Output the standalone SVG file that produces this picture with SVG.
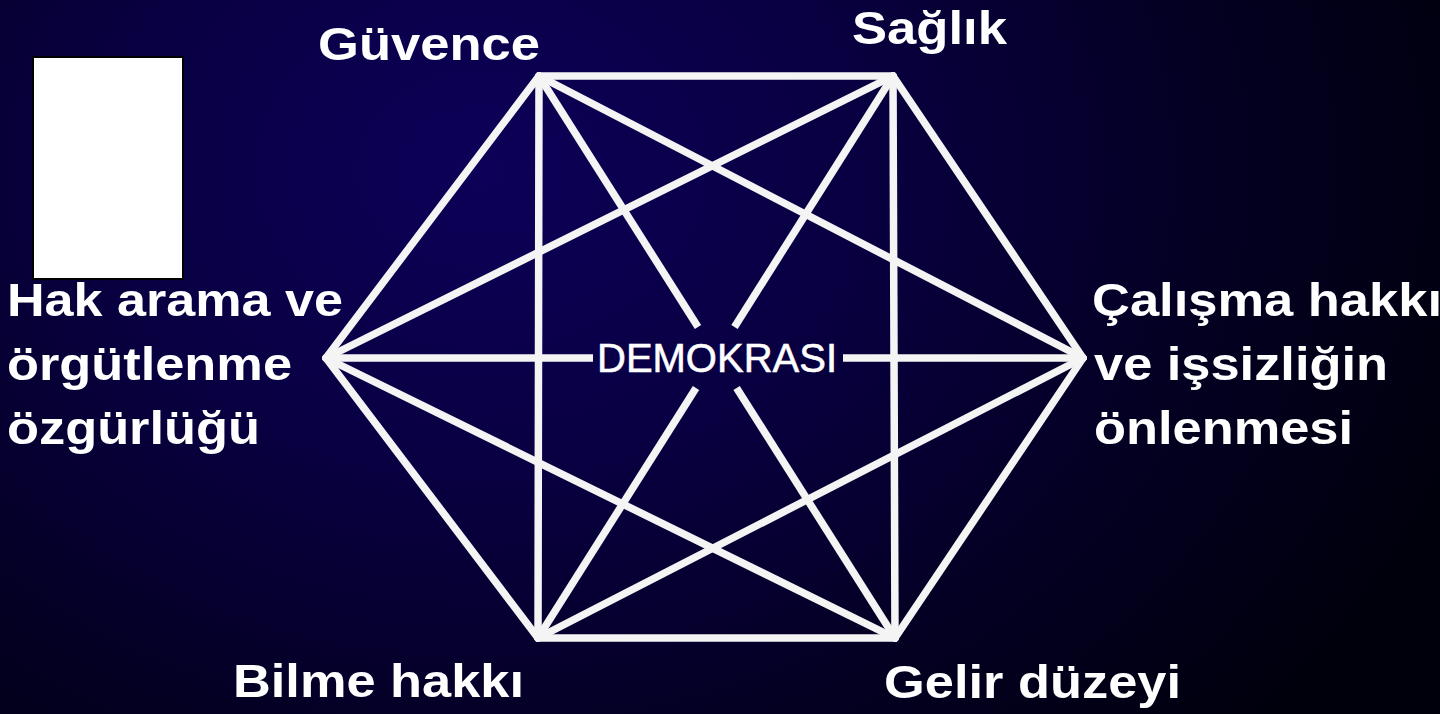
<svg xmlns="http://www.w3.org/2000/svg" width="1440" height="714" viewBox="0 0 1440 714">
<defs>
<radialGradient id="bg" cx="480" cy="170" r="1050" gradientUnits="userSpaceOnUse" gradientTransform="translate(480 170) scale(1 0.8) translate(-480 -170)">
<stop offset="0" stop-color="#0c0058"/>
<stop offset="0.35" stop-color="#080042"/>
<stop offset="0.7" stop-color="#030022"/>
<stop offset="1" stop-color="#00000c"/>
</radialGradient>
<style>
.lbl{font-family:"Liberation Sans",Arial,sans-serif;font-weight:bold;font-size:46px;fill:#ffffff}
.ln{stroke:#f4f4f4;stroke-width:7.5;stroke-linecap:round;fill:none}
.gap{stroke-linecap:butt}
.ctr{font-family:"Liberation Sans",Arial,sans-serif;font-size:41px;fill:#ffffff;stroke:#ffffff;stroke-width:0.6}
</style>
</defs>
<rect x="0" y="0" width="1440" height="714" fill="url(#bg)"/>
<rect id="whitebox" x="33" y="57" width="150" height="222" fill="#ffffff" stroke="#000000" stroke-width="2"/>
<g id="connectors">
<line class="ln" x1="539" y1="76" x2="893" y2="76"/>
<line class="ln" x1="893" y1="76" x2="1083" y2="358"/>
<line class="ln" x1="1083" y1="358" x2="895" y2="638"/>
<line class="ln" x1="895" y1="638" x2="538" y2="638"/>
<line class="ln" x1="538" y1="638" x2="326" y2="358"/>
<line class="ln" x1="326" y1="358" x2="539" y2="76"/>
<line class="ln" x1="539" y1="76" x2="538" y2="638"/>
<line class="ln" x1="893" y1="76" x2="895" y2="638"/>
<line class="ln" x1="539" y1="76" x2="1083" y2="358"/>
<line class="ln" x1="893" y1="76" x2="326" y2="358"/>
<line class="ln" x1="1083" y1="358" x2="538" y2="638"/>
<line class="ln" x1="895" y1="638" x2="326" y2="358"/>
<line class="ln gap" x1="539" y1="76" x2="698" y2="327"/>
<line class="ln gap" x1="736.6" y1="388" x2="895" y2="638"/>
<line class="ln gap" x1="893" y1="76" x2="734.5" y2="327"/>
<line class="ln gap" x1="696" y1="388" x2="538" y2="638"/>
<line class="ln gap" x1="326" y1="358" x2="593" y2="358"/>
<line class="ln gap" x1="843" y1="358" x2="1083" y2="358"/>
</g>
<g id="center"><text class="ctr" x="597" y="372" textLength="240" lengthAdjust="spacingAndGlyphs">DEMOKRASI</text></g>
<g id="guvence"><text class="lbl" x="318" y="60" textLength="222" lengthAdjust="spacingAndGlyphs">Güvence</text></g>
<g id="saglik"><text class="lbl" x="852" y="44" textLength="155" lengthAdjust="spacingAndGlyphs">Sağlık</text></g>
<g id="hakarama">
<text class="lbl" x="7" y="316" textLength="336" lengthAdjust="spacingAndGlyphs">Hak arama ve</text>
<text class="lbl" x="7" y="380" textLength="285" lengthAdjust="spacingAndGlyphs">örgütlenme</text>
<text class="lbl" x="7" y="444" textLength="253" lengthAdjust="spacingAndGlyphs">özgürlüğü</text>
</g>
<g id="calisma">
<text class="lbl" x="1092" y="316" textLength="350" lengthAdjust="spacingAndGlyphs">Çalışma hakkı</text>
<text class="lbl" x="1094" y="380" textLength="294" lengthAdjust="spacingAndGlyphs">ve işsizliğin</text>
<text class="lbl" x="1094" y="444" textLength="259" lengthAdjust="spacingAndGlyphs">önlenmesi</text>
</g>
<g id="bilme"><text class="lbl" x="233" y="697" textLength="291" lengthAdjust="spacingAndGlyphs">Bilme hakkı</text></g>
<g id="gelir"><text class="lbl" x="884" y="698" textLength="297" lengthAdjust="spacingAndGlyphs">Gelir düzeyi</text></g>
</svg>
